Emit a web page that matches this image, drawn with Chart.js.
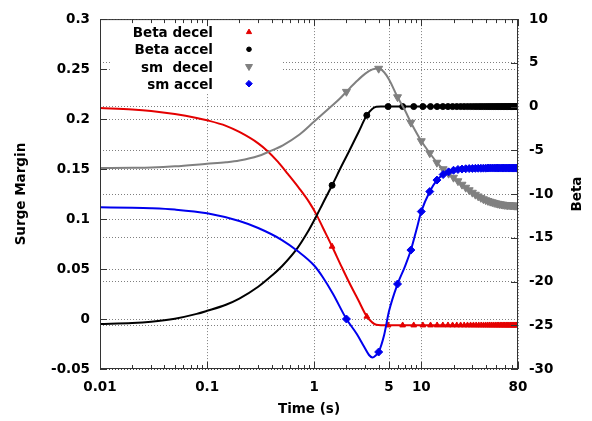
<!DOCTYPE html>
<html>
<head>
<meta charset="utf-8">
<script src="https://cdn.jsdelivr.net/npm/chart.js@4.4.0/dist/chart.umd.min.js"></script>
<style>
body { margin: 0; background: #fff; }
#wrap { width: 592px; height: 421px; position: relative; }
</style>
</head>
<body>
<div id="wrap"><canvas id="myChart"></canvas></div>
<script>
// axis ticks
var xTicks = [0.01, 0.1, 1, 5, 10, 80];
var leftTicks = [-0.05, 0, 0.05, 0.1, 0.15, 0.2, 0.25, 0.3];
var rightTicks = [-30, -25, -20, -15, -10, -5, 0, 5, 10];

// Beta decel curve (right axis)
var bdT = [0.01, 0.02, 0.03, 0.05, 0.08, 0.1, 0.15, 0.2, 0.3, 0.37, 0.457, 0.567, 0.73, 0.9, 1.05, 1.2, 1.8, 2.1, 2.6, 3.5, 3.8, 4.2];
var bdY = [-0.17, -0.33, -0.5, -0.85, -1.3, -1.57, -2.2, -2.9, -4.2, -5.13, -6.3, -7.7, -9.4, -10.95, -12.35, -13.8, -18.3, -20.0, -22.2, -24.7, -24.95, -25.0];

// Beta accel curve (right axis)
var baT = [0.01, 0.02, 0.03, 0.05, 0.08, 0.1, 0.15, 0.2, 0.3, 0.4, 0.5, 0.7, 0.85, 1.05, 1.2, 1.8, 2.1, 2.6, 3.5, 3.8, 4.2];
var baY = [-24.85, -24.75, -24.6, -24.25, -23.7, -23.35, -22.65, -21.95, -20.6, -19.35, -18.25, -16.15, -14.55, -12.5, -11.1, -6.8, -5.2, -2.9, -0.25, -0.02, 0];

// Beta marker times and values
var betaMarkT = [1.47, 3.1, 4.9, 6.7, 8.5, 10.35, 12.2, 14.05, 15.9, 17.75,
  19.6, 21.45, 23.3, 25.15, 27, 28.85, 30.7, 32.55, 34.4, 36.25,
  38.1, 39.95, 41.8, 43.65, 45.5, 47.35, 49.2, 51.05, 52.9, 54.75,
  56.6, 58.45, 60.3, 62.15, 64, 65.85, 67.7, 69.55, 71.4, 73.25,
  75.1, 76.95, 78.8];
var bdMark = [-16.0, -24.0, -25, -25, -25, -25, -25, -25, -25, -25,
  -25, -25, -25, -25, -25, -25, -25, -25, -25, -25,
  -25, -25, -25, -25, -25, -25, -25, -25, -25, -25,
  -25, -25, -25, -25, -25, -25, -25, -25, -25, -25,
  -25, -25, -25];
var baMark = [-9.0, -1.0, 0, 0, 0, 0, 0, 0, 0, 0,
  0, 0, 0, 0, 0, 0, 0, 0, 0, 0,
  0, 0, 0, 0, 0, 0, 0, 0, 0, 0,
  0, 0, 0, 0, 0, 0, 0, 0, 0, 0,
  0, 0, 0];

// sm decel curve (left axis)
var sdT = [0.01, 0.02, 0.03, 0.05, 0.1, 0.15, 0.2, 0.3, 0.37, 0.51, 0.73, 1.0, 1.37, 1.7, 2.5, 3, 3.5, 4.5, 5, 7];
var sdY = [0.1511, 0.1513, 0.1516, 0.1527, 0.1553, 0.1568, 0.1585, 0.163, 0.167, 0.1738, 0.1845, 0.1975, 0.2105, 0.2195, 0.238, 0.2455, 0.2497, 0.2468, 0.2395, 0.2093];

// sm accel curve (left axis)
var saT = [0.01, 0.02, 0.03, 0.05, 0.1, 0.2, 0.3, 0.5, 0.7, 1.0, 1.2, 1.5, 2.5, 2.9, 3.25, 3.5, 3.75, 4.5, 5, 7, 9];
var saY = [0.1117, 0.1113, 0.1108, 0.1095, 0.1058, 0.098, 0.091, 0.079, 0.068, 0.0535, 0.042, 0.025, -0.015, -0.027, -0.036, -0.0385, -0.0365, -0.016, 0.008, 0.052, 0.089];

// sm marker times and values
var smMarkT = [2, 4, 6, 8, 10, 12, 14, 16, 18, 20,
  22, 24, 26, 28, 30, 32, 34, 36, 38, 40,
  42, 44, 46, 48, 50, 52, 54, 56, 58, 60,
  62, 64, 66, 68, 70, 72, 74, 76, 78, 80];
var sdMark = [0.2274, 0.2505, 0.222, 0.1965, 0.178, 0.166, 0.1565, 0.150, 0.1455, 0.1415,
  0.138, 0.1345, 0.1315, 0.129, 0.1265, 0.1245, 0.1228, 0.1213, 0.12, 0.119,
  0.1182, 0.1175, 0.1169, 0.1163, 0.1158, 0.1154, 0.115, 0.1147, 0.1145, 0.1143,
  0.1141, 0.114, 0.1139, 0.1138, 0.1137, 0.1136, 0.1135, 0.1135, 0.1134, 0.1134];
var saMark = [0.0, -0.033, 0.035, 0.069, 0.1075, 0.1275, 0.139, 0.1445, 0.1472, 0.1488,
  0.1496, 0.15, 0.1503, 0.1505, 0.1506, 0.1507, 0.1508, 0.1508, 0.1509, 0.1509,
  0.151, 0.151, 0.151, 0.151, 0.151, 0.151, 0.151, 0.151, 0.151, 0.151,
  0.151, 0.151, 0.151, 0.151, 0.151, 0.151, 0.151, 0.151, 0.151, 0.151];

var RED = 'rgb(228,0,0)', BLACK = '#000', GRAY = 'rgb(128,128,128)', BLUE = 'rgb(0,0,238)';
var FONT = { family: '"DejaVu Sans", sans-serif', size: 13.5, weight: 'bold' };
var gridCol = 'rgba(0,0,0,0.5)';

function pts(xs, ys) {
  return xs.map(function (x, i) { return { x: x, y: ys[i] }; });
}
function curve(xs, ys, mx, my) {
  return pts(xs, ys).concat(pts(mx, my)).sort(function (a, b) { return a.x - b.x; });
}
function lineSet(label, data, color, axis, order) {
  return { label: label, data: data, yAxisID: axis, borderColor: color, borderWidth: 2,
    pointRadius: 0, cubicInterpolationMode: 'monotone', fill: false, order: order };
}
function markSet(label, data, color, axis, style, r, rot, order) {
  return { label: label, data: data, yAxisID: axis, showLine: false, pointStyle: style,
    pointRadius: r, pointRotation: rot, pointBackgroundColor: color, pointBorderColor: color,
    pointBorderWidth: 1, order: order };
}

var legendItems = [
  { text: 'Beta decel', color: RED, style: 'triangle', r: 3, rot: 0 },
  { text: 'Beta accel', color: BLACK, style: 'circle', r: 2.3, rot: 0 },
  { text: 'sm  decel', color: GRAY, style: 'triangle', r: 4, rot: 180 },
  { text: 'sm accel', color: BLUE, style: 'rectRot', r: 3.3, rot: 0 }
];

var decor = {
  id: 'decor',
  beforeDatasetsDraw: function (chart) {
    var ctx = chart.ctx, a = chart.chartArea;
    ctx.save();
    ctx.fillStyle = '#fff';
    ctx.fillRect(a.left + 10, a.top + 1, 171, 73);
    ctx.restore();
  },
  afterDraw: function (chart) {
    var ctx = chart.ctx, a = chart.chartArea;
    var sx = chart.scales.x, sy = chart.scales.y, sy2 = chart.scales.y2;
    ctx.save();
    ctx.strokeStyle = '#333';
    ctx.lineWidth = 1;
    ctx.strokeRect(a.left + 0.5, a.top + 0.5, a.right - a.left - 1, a.bottom - a.top - 1);

    // inward tick marks
    ctx.beginPath();
    xTicks.forEach(function (v) {
      var px = Math.round(sx.getPixelForValue(v)) + 0.5;
      ctx.moveTo(px, a.bottom); ctx.lineTo(px, a.bottom - 7);
      ctx.moveTo(px, a.top); ctx.lineTo(px, a.top + 7);
    });
    for (var d = 0.01; d < 80; d *= 10) {
      for (var m = 2; m < 10; m++) {
        var v = m * d;
        if (v >= 80) break;
        var px = Math.round(sx.getPixelForValue(v)) + 0.5;
        ctx.moveTo(px, a.bottom); ctx.lineTo(px, a.bottom - 4);
        ctx.moveTo(px, a.top); ctx.lineTo(px, a.top + 4);
      }
    }
    leftTicks.forEach(function (v) {
      var py = Math.round(sy.getPixelForValue(v)) + 0.5;
      ctx.moveTo(a.left, py); ctx.lineTo(a.left + 7, py);
    });
    rightTicks.forEach(function (v) {
      var py = Math.round(sy2.getPixelForValue(v)) + 0.5;
      ctx.moveTo(a.right, py); ctx.lineTo(a.right - 7, py);
    });
    ctx.stroke();

    // key
    ctx.font = 'bold 13.5px "DejaVu Sans", sans-serif';
    ctx.textAlign = 'right';
    ctx.textBaseline = 'alphabetic';
    legendItems.forEach(function (it, i) {
      var cy = a.top + 13 + i * 17.2;
      ctx.fillStyle = '#000';
      ctx.fillText(it.text, a.left + 113, cy + 5);
      ctx.fillStyle = it.color;
      ctx.strokeStyle = it.color;
      ctx.lineWidth = 1;
      Chart.helpers.drawPoint(ctx, { pointStyle: it.style, radius: it.r, rotation: it.rot, borderWidth: 1 }, a.left + 149, cy);
    });

    // right axis title
    ctx.fillStyle = '#000';
    ctx.translate(577, (a.top + a.bottom) / 2);
    ctx.rotate(-Math.PI / 2);
    ctx.textAlign = 'center';
    ctx.textBaseline = 'middle';
    ctx.fillText('Beta', 0, 0);
    ctx.restore();
  }
};

var ctx = document.getElementById('myChart').getContext('2d');
var myChart = new Chart(ctx, {
  type: 'line',
  data: {
    datasets: [
      lineSet('Beta decel', curve(bdT, bdY, betaMarkT, bdMark), RED, 'y2', 8),
      markSet('Beta decel', pts(betaMarkT, bdMark), RED, 'y2', 'triangle', 3.3, 0, 7),
      lineSet('Beta accel', curve(baT, baY, betaMarkT, baMark), BLACK, 'y2', 6),
      markSet('Beta accel', pts(betaMarkT, baMark), BLACK, 'y2', 'circle', 3, 0, 5),
      lineSet('sm  decel', curve(sdT, sdY, smMarkT, sdMark), GRAY, 'y', 4),
      markSet('sm  decel', pts(smMarkT, sdMark), GRAY, 'y', 'triangle', 4.6, 180, 3),
      lineSet('sm accel', curve(saT, saY, smMarkT, saMark), BLUE, 'y', 2),
      markSet('sm accel', pts(smMarkT, saMark), BLUE, 'y', 'rectRot', 4, 0, 1)
    ]
  },
  options: {
    responsive: true,
    maintainAspectRatio: false,
    animation: false,
    layout: { padding: { top: 14, left: 0, right: 0, bottom: 0 } },
    plugins: { legend: { display: false }, tooltip: { enabled: false } },
    scales: {
      x: {
        type: 'logarithmic', position: 'bottom', min: 0.01, max: 80,
        afterBuildTicks: function (s) { s.ticks = xTicks.map(function (v) { return { value: v }; }); },
        afterFit: function (s) { s.height = 52; },
        ticks: { autoSkip: false, maxRotation: 0, padding: 10, color: '#000', font: FONT,
          callback: function (v) { return String(v); } },
        grid: { color: gridCol, drawTicks: false },
        border: { display: false, dash: [1, 2] },
        title: { display: true, text: 'Time (s)', color: '#000', font: FONT, padding: { top: 0, bottom: 3 } }
      },
      y: {
        position: 'left', min: -0.05, max: 0.3,
        afterBuildTicks: function (s) { s.ticks = leftTicks.map(function (v) { return { value: v }; }); },
        afterFit: function (s) { s.width = 100; },
        ticks: { padding: 10, color: '#000', font: FONT,
          callback: function (v) { return String(Number(v.toFixed(2))); } },
        grid: { color: gridCol, drawTicks: false },
        border: { display: false, dash: [1, 2] },
        title: { display: true, text: 'Surge Margin', color: '#000', font: FONT, padding: { top: 13, bottom: 0 } }
      },
      y2: {
        position: 'right', min: -30, max: 10,
        afterBuildTicks: function (s) { s.ticks = rightTicks.map(function (v) { return { value: v }; }); },
        afterFit: function (s) { s.width = 74; },
        ticks: { padding: 11, color: '#000', font: FONT,
          callback: function (v) { return String(v); } },
        grid: { color: gridCol, drawTicks: false },
        border: { display: false, dash: [1, 2] }
      }
    }
  },
  plugins: [decor]
});
</script>
</body>
</html>
